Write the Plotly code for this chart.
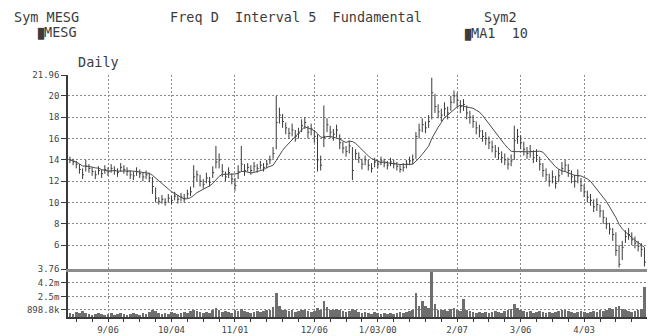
import pandas as pd
import plotly.graph_objects as go

# ---- data -------------------------------------------------------------
dates = pd.bdate_range("1999-08-19", periods=182)

close = [
    14.0, 13.8, 13.6, 13.1, 12.6, 13.4, 13.2, 12.9, 12.6, 13.0,
    12.7, 13.1, 12.9, 13.2, 13.0, 12.8, 13.3, 13.1, 12.9, 12.6,
    12.5, 12.9, 12.7, 12.4, 12.6, 12.3, 11.5, 10.4, 10.1, 10.3,
    10.0, 10.4, 10.2, 10.6, 10.3, 10.5, 10.4, 10.8, 11.0, 12.4,
    12.6, 12.0, 11.7, 12.3, 11.9, 12.8, 13.8, 14.0, 12.9, 12.4,
    12.8, 12.2, 11.6, 12.9, 13.6, 13.0, 13.3, 13.0, 13.4, 13.2,
    13.5, 13.3, 13.6, 14.0, 14.6, 17.5, 18.2, 17.6, 17.0, 16.5,
    16.8, 16.2, 16.5, 17.2, 17.5, 16.6, 16.9, 16.2, 14.0, 13.5,
    16.2, 17.3, 16.6, 16.4, 16.8, 15.6, 15.1, 14.8, 15.3, 13.0,
    14.6, 14.2, 13.6, 14.0, 13.5, 13.2, 13.8, 13.6, 13.9, 13.7,
    13.5, 13.8, 13.6, 13.4, 13.1, 13.3, 13.6, 13.9, 14.0, 16.2,
    16.8, 17.3, 17.0, 17.6, 20.3, 19.0, 18.5, 18.2, 18.8, 18.4,
    19.4, 20.0, 19.6, 19.0, 19.2, 18.4, 18.0, 17.6, 17.0, 16.7,
    16.2, 16.0, 15.6, 15.2, 14.8, 14.6, 14.2, 14.0, 13.6, 13.9,
    15.8, 16.2, 15.6, 15.0, 14.6, 14.8, 14.2, 14.4, 13.6, 13.0,
    12.6, 12.0, 12.4, 11.8, 12.5, 13.2, 13.5, 13.0, 12.4, 12.0,
    12.5, 11.6, 11.0, 10.5, 10.2, 9.6, 9.8, 9.2, 8.6, 8.0,
    7.5, 7.0, 5.5, 4.2, 5.8, 6.8, 7.0, 6.5, 6.2, 5.9,
    5.6, 4.4,
]

high = [
    14.3, 14.1, 13.9, 13.6, 13.2, 14.0, 13.6, 13.3, 13.0, 13.4,
    13.1, 13.5, 13.3, 13.6, 13.4, 13.2, 13.7, 13.5, 13.3, 13.0,
    12.9, 13.3, 13.1, 12.8, 13.0, 12.8, 12.4, 11.4, 10.5, 10.7,
    10.4, 10.8, 10.6, 11.0, 10.7, 10.9, 10.8, 11.2, 11.5, 13.5,
    13.0, 12.6, 12.2, 12.8, 12.4, 13.4, 15.3, 14.6, 13.6, 12.9,
    13.3, 12.7, 12.3, 13.5, 15.3, 13.6, 13.7, 13.5, 13.8, 13.6,
    13.9, 13.7, 14.0, 14.4, 15.2, 20.0, 18.9, 18.3, 17.5, 17.0,
    17.4, 16.8, 17.0, 17.8, 18.0, 17.2, 17.4, 16.8, 16.4, 14.4,
    19.1, 17.9, 17.2, 16.9, 17.3, 16.4, 15.7, 15.3, 15.8, 15.2,
    15.0, 14.7, 14.1, 14.4, 14.0, 13.7, 14.2, 14.0, 14.3, 14.1,
    13.9, 14.2, 14.0, 13.8, 13.5, 13.7, 14.0, 14.3, 14.5, 16.6,
    17.4, 17.9, 17.6, 18.2, 21.7, 20.2, 19.2, 18.8, 19.4, 19.0,
    20.0, 20.5, 20.3, 19.6, 19.7, 19.1, 18.6, 18.2, 17.6, 17.3,
    16.8, 16.6, 16.2, 15.8, 15.4, 15.2, 14.8, 14.6, 14.2, 14.5,
    17.2, 16.9, 16.3, 15.7, 15.2, 15.4, 14.9, 15.0, 14.3, 13.7,
    13.2, 12.7, 13.0, 12.5, 13.1, 13.8, 14.0, 13.6, 13.0, 12.6,
    13.1, 12.3, 11.7, 11.1, 10.8, 10.3, 10.4, 9.8, 9.3, 8.6,
    8.1, 7.6, 7.2, 6.0, 6.4, 7.4, 7.6, 7.2, 6.8, 6.4,
    6.2, 5.8,
]

low = [
    13.7, 13.5, 13.2, 12.7, 12.2, 12.9, 12.8, 12.5, 12.2, 12.6,
    12.3, 12.7, 12.5, 12.8, 12.6, 12.4, 12.9, 12.7, 12.5, 12.2,
    12.1, 12.5, 12.3, 12.0, 12.2, 11.9, 10.8, 10.0, 9.8, 9.9,
    9.7, 10.0, 9.8, 10.2, 9.9, 10.1, 10.0, 10.4, 10.6, 11.4,
    12.0, 11.5, 11.3, 11.8, 11.5, 12.3, 13.2, 13.2, 12.4, 12.0,
    12.3, 11.7, 11.1, 12.2, 12.9, 12.5, 12.9, 12.6, 12.9, 12.8,
    13.1, 12.9, 13.2, 13.6, 14.1, 15.0, 17.4, 17.0, 16.4, 16.0,
    16.2, 15.7, 16.0, 16.6, 16.9, 16.0, 16.3, 15.6, 12.9, 13.0,
    15.2, 16.6, 16.0, 15.8, 16.1, 15.0, 14.6, 14.3, 14.6, 12.1,
    14.0, 13.7, 13.1, 13.5, 13.0, 12.8, 13.3, 13.2, 13.5, 13.3,
    13.1, 13.4, 13.2, 13.0, 12.8, 12.9, 13.2, 13.5, 13.6, 14.1,
    16.0, 16.6, 16.5, 17.0, 17.8, 18.4, 17.9, 17.6, 18.1, 17.8,
    18.6, 19.3, 19.0, 18.4, 18.6, 17.8, 17.4, 17.0, 16.4, 16.1,
    15.7, 15.4, 15.0, 14.7, 14.2, 14.0, 13.7, 13.5, 13.1, 13.4,
    14.0, 15.5, 15.0, 14.4, 14.1, 14.2, 13.7, 13.8, 13.0, 12.4,
    12.0, 11.5, 11.8, 11.3, 11.9, 12.6, 12.9, 12.4, 11.8, 11.4,
    11.8, 11.0, 10.5, 10.0, 9.7, 9.1, 9.2, 8.6, 8.0, 7.5,
    7.0, 6.4, 5.0, 3.9, 4.6, 6.2, 6.5, 6.0, 5.7, 5.4,
    4.9, 4.0,
]

# daily volume, millions of shares
volume = [
    0.5, 0.4, 0.6, 0.5, 0.7, 0.5, 0.4, 0.3, 0.4, 0.5,
    0.4, 0.3, 0.4, 0.5, 0.3, 0.4, 0.5, 0.4, 0.3, 0.4,
    0.5, 0.4, 0.3, 0.5, 0.4, 0.6, 0.8, 0.7, 0.5, 0.4,
    0.5, 0.4, 0.6, 0.5, 0.4, 0.5, 0.6, 0.5, 0.7, 0.9,
    0.7, 0.6, 0.5, 0.6, 0.5, 0.8, 1.1, 0.8, 0.6, 0.7,
    0.6, 0.5, 0.9, 0.7, 1.0, 0.7, 0.6, 0.5, 0.6, 0.7,
    0.6, 0.7, 0.8, 0.9, 1.2, 2.9, 1.3, 0.9, 0.8, 0.7,
    0.8, 0.6, 0.7, 0.8, 0.9, 0.7, 0.6, 0.7, 1.1, 0.9,
    2.0, 1.2, 0.9, 0.8, 1.0, 0.8, 0.7, 0.6, 0.7, 1.0,
    0.8, 0.6, 0.5, 0.6, 0.5, 0.4, 0.6, 0.5, 0.4, 0.5,
    0.4, 0.5, 0.4, 0.5, 0.6, 0.5, 0.6, 0.7, 0.8, 2.9,
    1.4, 2.0, 1.3, 1.1, 5.7, 1.6, 0.9, 0.8, 0.9, 0.7,
    1.0, 1.1, 0.8, 0.7, 2.2, 0.9, 0.7, 0.6, 0.5, 0.6,
    0.5, 0.6, 0.5, 0.6, 0.7, 0.6, 0.5, 0.7, 0.8, 1.0,
    1.6, 1.1, 0.8, 0.7, 0.6, 0.7, 0.5, 0.6, 0.7, 0.6,
    0.5, 0.6, 0.5, 0.6, 0.7, 0.8, 0.9, 0.7, 0.6, 0.5,
    0.6, 0.7, 0.6, 0.5, 0.6, 0.7, 0.6, 0.8, 0.7, 0.9,
    1.1, 1.0, 1.2, 1.4, 1.0, 0.8, 0.7, 0.6, 0.7, 0.8,
    1.0, 3.7,
]

tick_dates = ["1999-09-06", "1999-10-04", "1999-11-01", "1999-12-06",
              "2000-01-03", "2000-02-07", "2000-03-06", "2000-04-03"]
tick_text = ["9/06", "10/04", "11/01", "12/06", "1/03/00", "2/07", "3/06", "4/03"]

price_ticks = [21.96, 20, 18, 16, 14, 12, 10, 8, 6, 3.76]
price_tick_text = ["21.96", "20", "18", "16", "14", "12", "10", "8", "6", "3.76"]

vol_ticks = [0.8988, 2.5, 4.2]
vol_tick_text = ["898.8k", "2.5m", "4.2m"]

ma_window = 10

# ---- derived series ----------------------------------------------------
idx = list(range(len(dates)))
day_pos = {d.strftime("%Y-%m-%d"): i for i, d in enumerate(dates)}
tickvals = [day_pos[d] for d in tick_dates]

ma = pd.Series(close).rolling(ma_window, min_periods=1).mean()

# high-low bars with a close tick on the right
bar_x, bar_y = [], []
for i, h, l, c in zip(idx, high, low, close):
    bar_x += [i, i, None, i, i + 0.45, None]
    bar_y += [l, h, None, c, c, None]

# ---- figure -------------------------------------------------------------
W, H = 648, 336
ML, MR, MT, MB = 68, 1, 75, 19
PW, PH = W - ML - MR, H - MT - MB
split = 48 / PH

INK = "#3a3a3a"
GRID = "#8a8a8a"
MONO = "DejaVu Sans Mono"

fig = go.Figure()
fig.add_trace(go.Bar(x=idx, y=volume, width=0.85, marker_color="#6e6e6e",
                     marker_line_width=0, xaxis="x", yaxis="y",
                     showlegend=False, hoverinfo="skip"))
fig.add_trace(go.Scatter(x=bar_x, y=bar_y, mode="lines",
                         line=dict(color=INK, width=1),
                         xaxis="x2", yaxis="y2", showlegend=False,
                         hoverinfo="skip"))
fig.add_trace(go.Scatter(x=idx, y=ma, mode="lines",
                         line=dict(color="#4a4a4a", width=1),
                         xaxis="x2", yaxis="y2", showlegend=False,
                         hoverinfo="skip"))

xrange = [-0.6, 181.8]
common_x = dict(range=xrange, tickmode="array", tickvals=tickvals,
                showgrid=True, gridcolor=GRID, griddash="2px,2px",
                gridwidth=1, zeroline=False)

fig.update_layout(
    width=W, height=H,
    margin=dict(l=ML, r=MR, t=MT, b=MB, pad=0),
    paper_bgcolor="white", plot_bgcolor="white",
    bargap=0,
    xaxis=dict(**common_x, ticktext=tick_text, anchor="y",
               ticks="outside", ticklen=3, tickcolor=INK,
               showline=True, linecolor=INK, linewidth=1.5,
               tickfont=dict(family=MONO, size=9, color="#444"),
               minor=dict(ticks="outside", ticklen=3, tickcolor=INK,
                          tick0=2, dtick=5, showgrid=False)),
    xaxis2=dict(**common_x, ticktext=tick_text, anchor="y2",
                matches="x", showticklabels=False, ticks="",
                showline=True, linecolor="#8c8c8c", linewidth=3),
    yaxis=dict(domain=[0, split], range=[0, 5.9], tickmode="array",
               tickvals=vol_ticks, ticktext=vol_tick_text,
               ticks="outside", ticklen=5, tickcolor=INK,
               showline=True, linecolor=INK, linewidth=1.5,
               showgrid=True, gridcolor=GRID, griddash="2px,2px",
               zeroline=False,
               tickfont=dict(family=MONO, size=9, color="#444")),
    yaxis2=dict(domain=[split, 1], range=[3.76, 21.96], tickmode="array",
                tickvals=price_ticks, ticktext=price_tick_text,
                ticks="outside", ticklen=5, tickcolor=INK,
                showline=True, linecolor=INK, linewidth=1.5,
                showgrid=True, gridcolor=GRID, griddash="2px,2px",
                zeroline=False,
                tickfont=dict(family=MONO, size=9, color="#444")),
)


def paper(xp, yp):
    return (xp - ML) / PW, (H - MB - yp) / PH


NB = "\u00a0"
BLOCK = "<span style='font-size:10px'>\u2588</span>"
header = [
    ("Sym MESG", 12, 17),
    (BLOCK + "MESG", 35, 32),
    ("Freq D  Interval 5  Fundamental", 168, 17),
    ("Sym2", 482, 17),
    (BLOCK + "MA1  10", 462, 33),
    ("Daily", 76, 62),
]
for text, xp, yp in header:
    ax, ay = paper(xp, yp)
    fig.add_annotation(text=text.replace("  ", NB * 2).replace(" M", NB + "M"),
                       x=ax, y=ay,
                       xref="paper", yref="paper", xanchor="left",
                       yanchor="middle", showarrow=False,
                       font=dict(family=MONO, size=13.5, color="#3c3c3c"))

fig.write_html("out.html")
